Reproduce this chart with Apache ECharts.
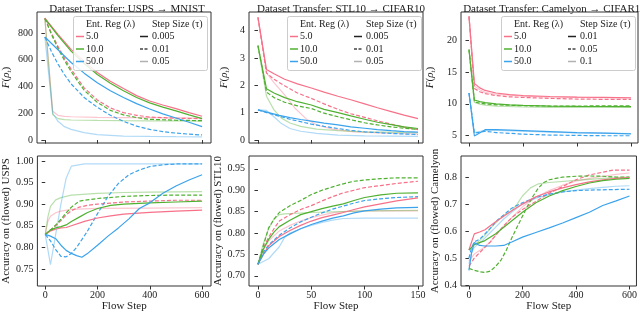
<!DOCTYPE html>
<html><head><meta charset="utf-8">
<script src="https://cdn.jsdelivr.net/npm/echarts@6/dist/echarts.min.js"></script>
<style>html,body{margin:0;padding:0;background:#fff}#c{width:640px;height:313px}</style>
</head><body><div id="c"></div>
<script>
// ---------- DATA ----------
const titles = ['Dataset Transfer: USPS \u2192 MNIST', 'Dataset Transfer: STL10 \u2192 CIFAR10', 'Dataset Transfer: Camelyon \u2192 CIFAR10'];
const accNames = ['Accuracy on (flowed) USPS', 'Accuracy on (flowed) STL10', 'Accuracy on (flowed) Camelyon'];
const hueLabels = ['5.0', '10.0', '50.0'];
const stepLabels = [['0.005', '0.01', '0.05'], ['0.005', '0.01', '0.05'], ['0.01', '0.05', '0.1']];
const xTicks600 = [0, 200, 400, 600];
const xTicks150 = [0, 50, 100, 150];
const yTicksF1 = [0, 200, 400, 600, 800];
const yTicksF2 = [0, 1, 2, 3, 4];
const yTicksF3 = [5, 10, 15, 20];
const yTicksA1 = [0.75, 0.80, 0.85, 0.90, 0.95, 1.00];
const yTicksA2 = [0.70, 0.75, 0.80, 0.85, 0.90, 0.95];
const yTicksA3 = [0.4, 0.5, 0.6, 0.7, 0.8];

// USPS -> MNIST, objective F
const uspsF_r_s = [[0,912],[50,790],[100,678],[150,588],[200,505],[250,440],[300,385],[350,332],[400,292],[450,262],[500,235],[550,205],[600,178]];
const uspsF_r_d = [[0,912],[25,800],[50,700],[75,612],[100,530],[150,390],[200,300],[250,240],[300,205],[350,185],[400,172],[500,163],[600,160]];
const uspsF_r_l = [[0,912],[30,215],[50,185],[75,177],[100,174],[200,170],[300,168],[400,167],[500,166],[600,165]];
const uspsF_g_s = [[0,908],[50,780],[100,665],[150,572],[200,490],[250,425],[300,368],[350,318],[400,278],[450,246],[500,218],[550,188],[600,160]];
const uspsF_g_d = [[0,908],[25,790],[50,685],[75,595],[100,512],[150,372],[200,282],[250,222],[300,188],[350,168],[400,155],[500,148],[600,145]];
const uspsF_g_l = [[0,908],[30,190],[50,160],[75,152],[100,150],[200,147],[300,145],[400,144],[500,143],[600,142]];
const uspsF_b_s = [[0,770],[50,675],[100,580],[150,500],[200,428],[250,368],[300,318],[350,272],[400,232],[450,196],[500,165],[550,133],[600,100]];
const uspsF_b_d = [[0,770],[25,662],[50,568],[75,488],[100,420],[150,318],[200,245],[250,185],[300,140],[350,104],[400,80],[450,63],[500,52],[550,44],[600,38]];
const uspsF_b_l = [[0,770],[30,200],[50,140],[75,100],[100,80],[150,55],[200,40],[300,30],[400,27],[500,25],[600,24]];

// STL10 -> CIFAR10, objective F
const stlF_r_s = [[0,4.48],[8,2.58],[15,2.42],[25,2.22],[37,2.05],[50,1.90],[62,1.75],[75,1.60],[87,1.47],[100,1.32],[112,1.18],[125,1.04],[137,0.91],[150,0.78]];
const stlF_r_d = [[0,4.48],[8,2.45],[15,2.22],[25,1.98],[37,1.72],[50,1.52],[62,1.32],[75,1.12],[87,0.96],[100,0.83],[112,0.70],[125,0.58],[137,0.47],[150,0.38]];
const stlF_r_l = [[0,4.48],[8,2.45],[15,2.1],[25,1.65],[35,1.15],[45,0.78],[55,0.55],[70,0.40],[90,0.30],[120,0.25],[150,0.22]];
const stlF_g_s = [[0,3.45],[8,1.87],[15,1.72],[25,1.55],[37,1.40],[50,1.28],[62,1.12],[75,1.00],[87,0.88],[100,0.76],[112,0.65],[125,0.56],[137,0.48],[150,0.42]];
const stlF_g_d = [[0,3.45],[8,1.75],[15,1.55],[25,1.38],[37,1.25],[50,1.15],[62,0.98],[75,0.85],[87,0.74],[100,0.63],[112,0.55],[125,0.48],[137,0.43],[150,0.39]];
const stlF_g_l = [[0,3.45],[8,1.6],[15,1.1],[22,0.8],[30,0.62],[40,0.50],[55,0.40],[75,0.34],[100,0.30],[150,0.27]];
const stlF_b_s = [[0,1.10],[10,1.00],[20,0.90],[30,0.82],[40,0.75],[50,0.69],[62,0.62],[75,0.55],[87,0.48],[100,0.43],[112,0.38],[125,0.34],[137,0.31],[150,0.29]];
const stlF_b_d = [[0,1.10],[10,0.98],[20,0.87],[30,0.76],[40,0.67],[50,0.58],[62,0.50],[75,0.42],[87,0.35],[100,0.30],[125,0.24],[150,0.20]];
const stlF_b_l = [[0,1.10],[8,1.08],[15,0.85],[22,0.60],[30,0.42],[40,0.32],[55,0.24],[75,0.18],[100,0.15],[150,0.13]];

// Camelyon -> CIFAR10, objective F
const camF_r_s = [[0,23.7],[20,13.2],[40,12.5],[60,12.1],[100,11.7],[150,11.45],[200,11.3],[300,11.15],[400,11.05],[500,11.0],[600,10.95]];
const camF_r_d = [[0,23.7],[20,12.4],[40,11.9],[60,11.6],[100,11.3],[150,11.1],[200,11.0],[300,10.85],[400,10.75],[500,10.7],[600,10.7]];
const camF_r_l = [[0,23.7],[20,12.8],[40,12.2],[60,11.8],[100,11.5],[200,11.2],[300,11.05],[400,11.0],[500,10.95],[600,10.9]];
const camF_g_s = [[0,18.5],[20,10.6],[40,10.35],[60,10.2],[100,10.0],[150,9.85],[200,9.75],[300,9.65],[400,9.6],[500,9.58],[600,9.55]];
const camF_g_d = [[0,18.5],[20,10.3],[40,10.1],[60,10.0],[100,9.85],[200,9.7],[300,9.65],[400,9.65],[500,9.68],[600,9.7]];
const camF_g_l = [[0,18.5],[20,10.2],[40,9.95],[60,9.8],[100,9.65],[200,9.5],[300,9.45],[400,9.45],[500,9.45],[600,9.45]];
const camF_b_s = [[0,11.7],[20,4.95],[60,5.95],[100,5.95],[200,5.8],[300,5.65],[400,5.5],[500,5.4],[600,5.3]];
const camF_b_d = [[0,11.7],[20,5.4],[60,5.7],[100,5.5],[200,5.25],[300,5.1],[400,5.05],[500,5.0],[600,5.0]];
const camF_b_l = [[0,11.7],[20,5.5],[60,5.85],[100,5.85],[200,5.7],[300,5.55],[400,5.45],[500,5.4],[600,5.35]];

// USPS accuracy
const uspsA_r_s = [[0,0.830],[20,0.838],[40,0.842],[60,0.845],[80,0.846],[100,0.850],[150,0.860],[200,0.868],[250,0.873],[300,0.877],[400,0.881],[500,0.884],[600,0.886]];
const uspsA_r_d = [[0,0.830],[20,0.840],[40,0.850],[60,0.862],[80,0.875],[100,0.885],[130,0.893],[160,0.897],[200,0.900],[300,0.905],[400,0.907],[500,0.909],[600,0.909]];
const uspsA_r_l = [[0,0.830],[10,0.860],[20,0.872],[40,0.880],[60,0.884],[100,0.888],[200,0.890],[400,0.891],[600,0.892]];
const uspsA_g_s = [[0,0.830],[20,0.840],[40,0.845],[60,0.848],[80,0.852],[100,0.860],[130,0.870],[160,0.880],[200,0.890],[250,0.897],[300,0.900],[400,0.903],[500,0.905],[600,0.907]];
const uspsA_g_d = [[0,0.830],[20,0.840],[40,0.852],[60,0.865],[80,0.880],[100,0.893],[130,0.907],[160,0.910],[200,0.913],[300,0.918],[400,0.920],[500,0.921],[600,0.921]];
const uspsA_g_l = [[0,0.830],[10,0.870],[20,0.895],[40,0.910],[60,0.915],[100,0.921],[200,0.925],[300,0.927],[400,0.928],[600,0.929]];
const uspsA_b_s = [[0,0.830],[20,0.826],[40,0.820],[60,0.805],[80,0.793],[100,0.786],[120,0.781],[140,0.777],[160,0.785],[200,0.805],[240,0.826],[280,0.845],[320,0.866],[360,0.890],[400,0.903],[450,0.925],[500,0.942],[550,0.956],[600,0.968]];
const uspsA_b_d = [[0,0.830],[20,0.815],[40,0.795],[60,0.779],[80,0.778],[100,0.786],[120,0.800],[140,0.818],[160,0.836],[200,0.878],[240,0.918],[280,0.948],[320,0.968],[360,0.979],[400,0.987],[450,0.991],[500,0.993],[600,0.993]];
const uspsA_b_l = [[0,0.830],[20,0.760],[40,0.830],[60,0.900],[80,0.960],[100,0.988],[150,0.993],[300,0.993],[600,0.993]];

// STL10 accuracy
const stlA_r_s = [[0,0.727],[5,0.750],[10,0.770],[20,0.792],[30,0.806],[40,0.818],[50,0.828],[60,0.836],[70,0.842],[80,0.848],[90,0.855],[100,0.861],[115,0.868],[130,0.875],[150,0.882]];
const stlA_r_d = [[0,0.727],[5,0.765],[10,0.790],[15,0.810],[20,0.828],[30,0.843],[40,0.855],[50,0.864],[60,0.875],[70,0.885],[80,0.894],[90,0.900],[100,0.906],[115,0.911],[130,0.916],[150,0.921]];
const stlA_r_l = [[0,0.727],[5,0.760],[10,0.782],[20,0.805],[30,0.818],[40,0.828],[50,0.836],[60,0.842],[70,0.847],[80,0.850],[100,0.852],[150,0.852]];
const stlA_g_s = [[0,0.727],[5,0.762],[10,0.785],[15,0.802],[20,0.815],[30,0.830],[40,0.843],[50,0.850],[60,0.857],[70,0.863],[80,0.868],[90,0.876],[100,0.883],[115,0.889],[130,0.893],[150,0.894]];
const stlA_g_d = [[0,0.727],[5,0.770],[10,0.812],[15,0.832],[20,0.848],[30,0.864],[40,0.876],[50,0.890],[60,0.900],[70,0.908],[80,0.915],[90,0.921],[100,0.924],[115,0.927],[130,0.929],[150,0.929]];
const stlA_g_l = [[0,0.727],[5,0.775],[10,0.810],[15,0.833],[20,0.843],[25,0.845],[50,0.848],[100,0.852],[150,0.853]];
const stlA_b_s = [[0,0.727],[5,0.750],[10,0.765],[20,0.785],[30,0.798],[40,0.810],[50,0.820],[60,0.828],[70,0.835],[80,0.840],[90,0.847],[100,0.852],[115,0.856],[130,0.859],[150,0.860]];
const stlA_b_d = [[0,0.727],[5,0.755],[10,0.772],[20,0.795],[30,0.812],[40,0.826],[50,0.837],[60,0.847],[70,0.856],[80,0.863],[90,0.870],[100,0.876],[115,0.880],[130,0.883],[150,0.885]];
const stlA_b_l = [[0,0.727],[10,0.740],[20,0.768],[25,0.790],[30,0.800],[40,0.810],[50,0.818],[60,0.825],[70,0.830],[80,0.834],[100,0.835],[150,0.835]];

// Camelyon accuracy
const camA_r_s = [[0,0.530],[20,0.590],[40,0.597],[60,0.605],[80,0.620],[100,0.635],[130,0.655],[160,0.675],[200,0.700],[250,0.727],[300,0.745],[350,0.760],[400,0.772],[450,0.782],[500,0.790],[550,0.795],[600,0.798]];
const camA_r_d = [[0,0.470],[20,0.500],[40,0.520],[60,0.540],[80,0.560],[100,0.585],[130,0.620],[160,0.650],[200,0.680],[250,0.710],[300,0.740],[350,0.765],[400,0.790],[450,0.808],[500,0.818],[540,0.826],[600,0.826]];
const camA_r_l = [[0,0.490],[20,0.515],[50,0.535],[80,0.560],[100,0.585],[150,0.640],[200,0.690],[250,0.725],[300,0.750],[350,0.770],[400,0.785],[450,0.795],[500,0.803],[550,0.810],[600,0.815]];
const camA_g_s = [[0,0.530],[20,0.550],[60,0.565],[100,0.590],[150,0.630],[200,0.670],[250,0.705],[300,0.730],[350,0.750],[400,0.765],[450,0.778],[500,0.787],[550,0.792],[600,0.795]];
const camA_g_d = [[0,0.462],[20,0.455],[40,0.450],[60,0.447],[80,0.452],[100,0.470],[120,0.493],[140,0.530],[160,0.575],[180,0.615],[200,0.655],[220,0.695],[240,0.730],[260,0.760],[280,0.780],[300,0.790],[350,0.800],[400,0.803],[450,0.804],[500,0.803],[550,0.800],[600,0.800]];
const camA_g_l = [[0,0.530],[20,0.550],[40,0.565],[60,0.585],[80,0.610],[100,0.630],[120,0.650],[140,0.665],[160,0.675],[180,0.700],[200,0.730],[230,0.760],[260,0.775],[300,0.780],[400,0.788],[500,0.795],[600,0.800]];
const camA_b_s = [[0,0.455],[10,0.520],[20,0.558],[40,0.547],[60,0.545],[100,0.545],[130,0.547],[160,0.560],[200,0.578],[250,0.595],[300,0.612],[350,0.630],[400,0.650],[450,0.670],[500,0.695],[550,0.712],[600,0.730]];
const camA_b_d = [[0,0.500],[10,0.540],[20,0.560],[40,0.570],[60,0.590],[80,0.610],[100,0.635],[130,0.660],[160,0.685],[200,0.705],[250,0.725],[300,0.737],[350,0.745],[400,0.750],[450,0.752],[500,0.753],[600,0.755]];
const camA_b_l = [[0,0.480],[10,0.520],[20,0.540],[50,0.565],[80,0.595],[100,0.615],[130,0.645],[160,0.670],[200,0.700],[250,0.722],[300,0.735],[350,0.745],[400,0.752],[450,0.757],[500,0.762],[550,0.766],[600,0.768]];

// ---------- CHART ----------
const FONT = 'Liberation Serif';
const COL = { r: '#f77189', g: '#50b131', b: '#3ba3ec' };
const AX = '#333';

const panels = [
  [uspsF_r_l, uspsF_g_l, uspsF_b_l, uspsF_r_d, uspsF_g_d, uspsF_b_d, uspsF_r_s, uspsF_g_s, uspsF_b_s],
  [stlF_r_l, stlF_g_l, stlF_b_l, stlF_r_d, stlF_g_d, stlF_b_d, stlF_r_s, stlF_g_s, stlF_b_s],
  [camF_r_l, camF_g_l, camF_b_l, camF_r_d, camF_g_d, camF_b_d, camF_r_s, camF_g_s, camF_b_s],
  [uspsA_r_l, uspsA_g_l, uspsA_b_l, uspsA_r_d, uspsA_g_d, uspsA_b_d, uspsA_r_s, uspsA_g_s, uspsA_b_s],
  [stlA_r_l, stlA_g_l, stlA_b_l, stlA_r_d, stlA_g_d, stlA_b_d, stlA_r_s, stlA_g_s, stlA_b_s],
  [camA_r_l, camA_g_l, camA_b_l, camA_r_d, camA_g_d, camA_b_d, camA_r_s, camA_g_s, camA_b_s]
];
const hueOrder = ['r', 'g', 'b', 'r', 'g', 'b', 'r', 'g', 'b'];
const styleOrder = ['l', 'l', 'l', 'd', 'd', 'd', 's', 's', 's'];

const grids = [
  { left: 33, top: 12, width: 178, height: 131 },
  { left: 249, top: 12, width: 174, height: 131 },
  { left: 461, top: 12, width: 177, height: 131 },
  { left: 33, top: 156, width: 178, height: 132 },
  { left: 249, top: 156, width: 174, height: 132 },
  { left: 461, top: 156, width: 177, height: 132 }
].map(g => Object.assign({ show: true, borderColor: AX, borderWidth: 1, backgroundColor: 'transparent', containLabel: false }, g));

const xRanges = [[-30, 634], [-8.4, 154.7], [-29.6, 626], [-30, 634], [-8.4, 154.7], [-29.6, 626]];
const yRanges = [[-22, 957], [-0.109, 4.677], [3.86, 24.39], [0.7106, 1.0114], [0.6763, 0.980], [0.397, 0.878]];
const xTickSets = [xTicks600, xTicks150, xTicks600, xTicks600, xTicks150, xTicks600];
const yTickSets = [yTicksF1, yTicksF2, yTicksF3, yTicksA1, yTicksA2, yTicksA3];
const yFmt = [v => String(v), v => String(v), v => String(v), v => v.toFixed(2), v => v.toFixed(2), v => v.toFixed(1)];
const yNameGap = [24.5, 18.5, 24.5, 16.5, 21, 17];

const xAxes = xRanges.map((r, i) => ({
  type: 'value', gridIndex: i, min: r[0], max: r[1],
  axisLine: { show: false },
  splitLine: { show: false },
  axisTick: { show: true, length: 3.5, customValues: xTickSets[i], lineStyle: { color: AX, width: 1 } },
  axisLabel: { show: i >= 3, customValues: xTickSets[i], color: '#222', fontFamily: FONT, fontSize: 10, margin: 4,
    formatter: v => String(v) },
  name: i >= 3 ? 'Flow Step' : '', nameLocation: 'middle', nameGap: 15,
  nameTextStyle: { color: '#222', fontFamily: FONT, fontSize: 11 }
}));

const fName = '{i|F}({i|\u03c1}{s|t})';
const yAxes = yRanges.map((r, i) => ({
  type: 'value', gridIndex: i, min: r[0], max: r[1],
  axisLine: { show: false },
  splitLine: { show: false },
  axisTick: { show: true, length: 3.5, customValues: yTickSets[i], lineStyle: { color: AX, width: 1 } },
  axisLabel: { customValues: yTickSets[i], color: '#222', fontFamily: FONT, fontSize: 10, margin: 4, formatter: yFmt[i] },
  name: i < 3 ? fName : accNames[i - 3], nameLocation: 'middle', nameGap: yNameGap[i],
  nameTextStyle: { color: '#222', fontFamily: FONT, fontSize: 11,
    rich: { i: { fontStyle: 'italic', fontFamily: FONT, fontSize: 11, color: '#222' }, s: { fontStyle: 'italic', fontFamily: FONT, fontSize: 7, color: '#222', padding: [5, 0, 0, 0] } } }
}));

const series = [];
panels.forEach((arrs, gi) => {
  arrs.forEach((d, k) => {
    const st = styleOrder[k];
    series.push({
      type: 'line', xAxisIndex: gi, yAxisIndex: gi, data: d, symbol: 'none', silent: true,
      clip: true,
      lineStyle: { color: COL[hueOrder[k]], width: 1.2, type: st === 'd' ? [4, 2] : 'solid', opacity: st === 'l' ? 0.4 : 1 }
    });
  });
});

const titleCenters = [122, 336, 549.5];
const title = titles.map((t, i) => ({
  text: t, left: titleCenters[i], top: -1, textAlign: 'center',
  textStyle: { fontFamily: FONT, fontSize: 11, fontWeight: 'normal', color: '#222' }
}));

// legends
const graphic = [];
const legendLeft = [73, 287, 501];
const rowY = [24, 36.5, 49, 61.5];
legendLeft.forEach((lx, p) => {
  graphic.push({ type: 'rect', left: lx, top: 16, z: 100, shape: { width: 134, height: 54, r: 2 },
    style: { fill: 'rgba(255,255,255,0.85)', stroke: '#cccccc', lineWidth: 1 } });
  const txt = (x, y, s) => graphic.push({ type: 'text', x: lx + x, y: y, z: 101,
    style: { text: s, fontFamily: FONT, fontSize: 10, fill: '#222', verticalAlign: 'middle', align: 'left' } });
  const seg = (x, y, stroke, dash, op) => graphic.push({ type: 'line', z: 101,
    shape: { x1: lx + x, y1: y, x2: lx + x + 8, y2: y },
    style: { stroke: stroke, lineWidth: 1.5, lineDash: dash, opacity: op } });
  txt(13, rowY[0], 'Ent. Reg (\u03bb)');
  txt(79, rowY[0], 'Step Size (\u03c4)');
  ['r', 'g', 'b'].forEach((h, k) => {
    seg(3, rowY[k + 1], COL[h], null, 1);
    txt(13, rowY[k + 1], hueLabels[k]);
  });
  seg(67, rowY[1], '#222', null, 1);
  seg(67, rowY[2], '#444', [3, 1.5], 1);
  seg(67, rowY[3], '#222', null, 0.35);
  stepLabels[p].forEach((s, k) => txt(79, rowY[k + 1], s));
});

const chart = echarts.init(document.getElementById('c'), null, { renderer: 'canvas' });
chart.setOption({
  animation: false,
  backgroundColor: '#fff',
  title, grid: grids, xAxis: xAxes, yAxis: yAxes, series, graphic
});
</script></body></html>
